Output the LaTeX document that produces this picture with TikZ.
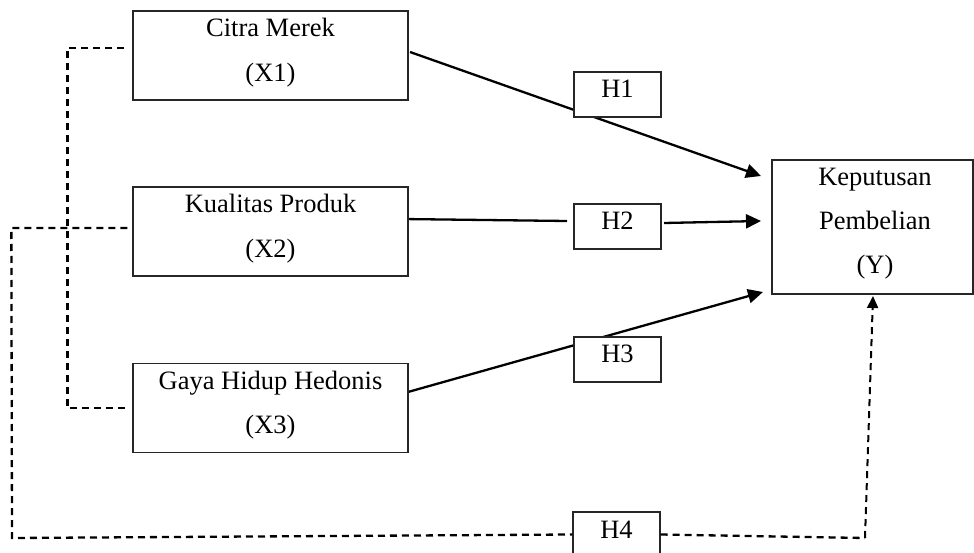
\documentclass[tikz,border=0pt]{standalone}
\usepackage{fontspec}
\setmainfont{Liberation Serif}
\usetikzlibrary{arrows.meta,calc}
\begin{document}
\begin{tikzpicture}[x=1pt,y=-1pt,
  varbox/.style={draw=black!85,line width=1.3pt,fill=white,minimum width=275pt,minimum height=89pt,inner sep=0pt},
  hbox/.style={draw=black!85,line width=1.3pt,fill=white,minimum width=87pt,minimum height=45pt,inner sep=0pt},
  ybox/.style={draw=black!85,line width=1.3pt,fill=white,minimum width=201pt,minimum height=134pt,inner sep=0pt},
  txt/.style={anchor=base,inner sep=0pt,font=\fontsize{26.5}{30}\selectfont},
  solidarrow/.style={line width=2.3pt,-{Triangle[length=15pt,width=14pt]}},
  solidline/.style={line width=2.3pt},
  dl/.style={line width=2.3pt,dash pattern=on 7pt off 5pt},
  dlarrow/.style={line width=2pt,dash pattern=on 7pt off 5pt,-{Triangle[length=12pt,width=11pt]}}]
\useasboundingbox (0,0) rectangle (974,553);
\fill[white] (0,0) rectangle (974,553);

% box positions
\coordinate (px1) at (270.5,55.5);
\coordinate (px2) at (270.5,231.5);
\coordinate (px3) at (270.5,408);
\coordinate (py) at (872.5,227);
\coordinate (ph1) at (617.5,94.5);
\coordinate (ph2) at (617.5,226.5);
\coordinate (ph3) at (617.5,359.5);
\coordinate (ph4) at (616.5,534.5);

% arrow tip coordinates
\coordinate (t1) at (761,176);
\coordinate (t2) at (761,221);
\coordinate (t3) at (763,292);
\coordinate (t4) at (873,296);
\coordinate (c4) at (865,538);

% solid connectors (drawn beneath H boxes)
\draw[solidarrow] ($(px1)+(139.5,-3.5)$) -- (t1);
\draw[solidline] ($(px2)+(131.5,-12.5)$) -- ($(ph2)+(-50.5,-5.5)$);
\draw[solidarrow] ($(ph2)+(46.5,-3.5)$) -- (t2);
\draw[solidarrow] ($(px3)+(137.5,-16)$) -- (t3);

% boxes
\node[varbox] (x1) at (px1) {};
\node[varbox] (x2) at (px2) {};
\node[varbox] (x3) at (px3) {};
\node[ybox] (y) at (py) {};
\node[hbox] (h1) at (ph1) {};
\node[hbox] (h2) at (ph2) {};
\node[hbox] (h3) at (ph3) {};
\node[hbox] (h4) at (ph4) {};

% dashed connectors
\draw[dl] ($(x1.west)+(-8,-7.5)$) -- ++(-57,0) |- ($(x3.west)+(-7,0)$);
\draw[dl] ($(x2.west)+(-5,-3.5)$) -- ++(-116,0) -- (12,538) -- (h4.west);
\draw[dl] (h4.east) -- (c4);
\draw[dlarrow] (c4) -- (t4);

% texts
\node[txt] (x1a) at (270.5,37) {Citra Merek};
\node[txt] (x1b) at (270.5,82) {(X1)};
\node[txt] (x2a) at (270.5,213) {Kualitas Produk};
\node[txt] (x2b) at (270.5,258) {(X2)};
\node[txt] (x3a) at (270.5,389) {Gaya Hidup Hedonis};
\node[txt] (x3b) at (270.5,433) {(X3)};
\node[txt] (ya) at (875,186) {Keputusan};
\node[txt] (yb) at (875,230) {Pembelian};
\node[txt] (yc) at (875,274) {(Y)};
\node[txt] (h1t) at (617.5,98) {H1};
\node[txt] (h2t) at (617.5,230) {H2};
\node[txt] (h3t) at (617.5,362) {H3};
\node[txt] (h4t) at (616.5,538) {H4};
\end{tikzpicture}
\end{document}
